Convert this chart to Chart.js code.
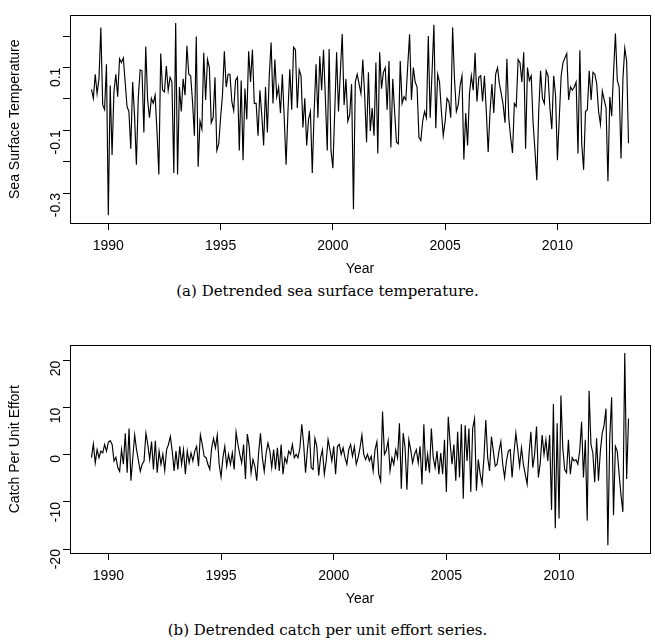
<!DOCTYPE html>
<html><head><meta charset="utf-8">
<script src="https://cdn.jsdelivr.net/npm/chart.js@4.4.0/dist/chart.umd.min.js"></script>
<style>
body{margin:0;background:#fff;width:655px;height:643px;position:relative;overflow:hidden}
canvas{position:absolute;left:0}
.cap{position:absolute;left:0;width:655px;text-align:center;font-family:"DejaVu Serif";font-size:15px;color:#000;line-height:18px}
</style></head><body>
<canvas id="c1" width="655" height="280" style="top:0"></canvas>
<div class="cap" style="top:282px">(a) Detrended sea surface temperature.</div>
<canvas id="c2" width="655" height="280" style="top:330px"></canvas>
<div class="cap" style="top:621px">(b) Detrended catch per unit effort series.</div>
<script>
const startYear = 1989.25;
const yearTicks = [1990, 1995, 2000, 2005, 2010];
const sstTicks = [-0.3, -0.2, -0.1, 0, 0.1, 0.2];
const sstTickLabels = ["-0.3", "", "-0.1", "", "0.1", ""];
const cpueTicks = [-20, -10, 0, 10, 20];
const cpueTickLabels = ["-20", "-10", "0", "10", "20"];

const sst = [
0.031,0.002,0.079,0.017,0.064,0.228,-0.019,-0.034,0.111,-0.371,0.043,-0.179,0.023,0.079,0.007,0.128,0.116,0.131,0.054,-0.024,-0.040,-0.159,0.054,-0.050,-0.210,0.002,0.093,0.090,-0.107,0.167,-0.003,-0.060,0.002,-0.014,0.012,-0.102,-0.241,0.145,0.028,0.023,0.105,0.028,0.069,0.054,-0.236,
0.242,-0.241,0.038,-0.040,0.064,0.012,0.170,0.079,0.074,-0.008,-0.117,0.199,-0.216,-0.071,-0.096,0.147,-0.003,0.126,0.100,-0.076,-0.060,0.069,-0.164,-0.143,-0.060,0.012,0.152,0.038,0.079,0.079,-0.008,-0.037,0.059,0.069,-0.164,0.059,-0.195,0.033,-0.065,0.152,0.054,0.157,-0.014,-0.014,-0.117,0.028,-0.050,-0.148,0.038,-0.107,0.074,
0.180,-0.014,0.126,0.007,0.038,-0.045,0.079,-0.060,-0.210,-0.040,0.095,-0.034,0.165,0.157,-0.029,0.093,0.074,-0.091,0.002,-0.148,-0.065,-0.040,-0.236,-0.040,0.111,-0.060,0.136,0.028,0.157,0.002,-0.164,0.159,-0.164,-0.221,-0.040,0.149,-0.040,0.085,0.207,-0.019,0.064,-0.071,-0.050,0.048,-0.352,0.054,0.079,0.048,0.017,0.126,0.012,
-0.138,0.085,-0.102,-0.029,-0.117,0.116,-0.174,0.149,0.033,0.085,0.100,-0.034,0.121,-0.155,0.064,-0.040,-0.138,-0.143,0.121,-0.014,0.007,-0.003,0.105,0.206,-0.003,0.100,0.054,0.038,-0.122,-0.133,-0.071,-0.040,-0.060,0.201,-0.060,0.085,0.237,-0.093,0.079,0.054,-0.040,-0.117,-0.071,0.002,-0.008,-0.060,0.228,0.064,-0.040,-0.019,0.043,
0.074,-0.193,-0.045,-0.148,0.017,0.074,0.028,0.147,-0.008,0.069,0.074,-0.008,0.074,-0.040,-0.169,-0.040,0.048,-0.045,0.079,0.100,0.048,0.017,-0.019,-0.076,0.128,-0.060,-0.122,-0.172,-0.014,-0.024,0.126,0.116,0.054,0.149,-0.159,0.100,0.059,0.074,-0.076,-0.164,-0.259,-0.040,0.090,0.002,-0.014,0.090,0.074,-0.029,-0.096,0.074,0.012,
-0.195,-0.060,0.074,0.116,0.131,0.145,-0.003,0.038,0.028,0.038,0.054,-0.174,0.155,-0.143,-0.226,-0.040,-0.034,0.090,-0.003,0.085,0.079,0.048,-0.040,-0.081,0.025,-0.003,-0.029,-0.262,0.007,-0.055,0.085,0.209,0.059,0.038,-0.190,0.064,0.162,0.121,-0.141
];

const cpue = [
-0.6,2.3,-1.7,1.1,-0.6,0.8,0.4,2.2,0.8,2.7,3.0,2.2,-1.3,-0.5,-2.7,-3.5,1.1,-2.0,4.6,-3.8,5.6,-5.5,-0.6,4.2,1.1,-1.2,-3.5,-2.0,-1.3,4.6,2.2,-1.0,2.8,-3.1,3.0,-3.8,0.8,-2.0,0.1,-3.3,1.1,2.2,3.9,0.8,-3.4,
0.8,-3.1,1.8,-2.0,1.1,-4.1,0.8,-1.7,0.4,-1.3,0.8,1.8,-2.4,4.2,2.2,-0.3,-0.6,-2.0,-3.1,1.5,3.5,1.5,4.2,-2.0,-4.7,-0.6,1.8,-2.4,0.1,-2.0,0.4,-3.1,4.8,2.2,0.1,-1.7,2.2,-5.1,4.4,1.8,-3.8,-1.0,-2.4,-5.5,0.4,4.6,-0.6,-3.5,0.4,2.5,0.8,
-2.7,1.1,-3.1,1.5,-3.4,2.2,-4.1,-0.6,-1.7,0.8,0.1,2.2,-0.6,0.1,-0.6,1.5,6.5,2.2,-3.8,1.1,5.1,-2.7,-3.1,3.5,1.8,-4.4,-0.6,1.1,-4.1,-1.3,3.2,1.1,-1.3,1.8,-4.1,1.8,2.2,0.1,1.5,-0.6,-2.0,1.1,2.2,-0.3,1.8,-2.0,-0.6,1.5,4.2,0.1,-1.0,
0.1,-1.3,-0.3,-3.4,1.1,2.8,-4.1,-5.6,9.2,0.1,0.9,3.0,-3.4,-0.6,-2.0,1.1,-0.6,6.7,-7.2,4.6,1.5,-7.4,3.2,1.1,-1.7,0.1,1.1,-1.7,1.8,-6.3,6.5,-3.4,0.1,-3.8,5.6,-0.6,-2.7,0.8,-4.1,0.4,-4.1,3.2,-7.9,8.1,2.5,-2.0,2.2,-5.5,4.9,-4.8,6.5,
-9.3,6.3,-1.3,5.6,-7.9,5.6,7.7,-7.6,-1.0,-4.1,-6.2,-0.6,7.4,-0.6,-3.4,3.9,0.8,-2.4,-2.0,0.8,2.8,-2.0,-4.8,-1.3,0.8,1.1,-4.8,0.4,4.6,1.1,-2.4,1.5,-2.0,-4.1,-6.2,0.1,4.9,-2.7,0.1,6.0,-4.8,-1.7,4.2,0.1,3.2,-1.3,4.2,-11.7,10.8,-15.6,6.7,
-13.5,12.6,1.5,-3.1,-3.8,3.2,-4.1,-0.6,-1.3,-1.0,-2.0,0.8,7.0,-4.8,3.2,-14.0,13.6,2.2,0.4,-5.8,3.5,-5.5,0.8,4.6,6.3,9.8,-19.2,3.5,12.2,-12.8,1.8,0.8,-4.1,-8.6,-12.1,21.6,-5.1,7.7
];

const FONT = "'Liberation Sans', Arial, Helvetica, sans-serif";

const boxPlugin = {
  id: 'box',
  afterDraw(chart) {
    const a = chart.chartArea, ctx = chart.ctx;
    ctx.save();
    ctx.strokeStyle = '#000';
    ctx.lineWidth = 1;
    ctx.strokeRect(Math.round(a.left) + 0.5, Math.round(a.top) + 0.5,
                   Math.round(a.right - a.left), Math.round(a.bottom - a.top));
    ctx.restore();
  }
};

function makeChart(id, values, yTitle, yTickVals, yTickLabels) {
  const pts = values.map((v, i) => ({ x: startYear + i / 12, y: v }));
  const xs = pts.map(p => p.x);
  const x0 = Math.min(...xs), x1 = Math.max(...xs);
  const y0 = Math.min(...values), y1 = Math.max(...values);
  const px = (x1 - x0) * 0.04, py = (y1 - y0) * 0.04;
  return new Chart(document.getElementById(id), {
    type: 'line',
    data: { datasets: [{ data: pts, borderColor: '#000', borderWidth: 1.15, pointRadius: 0, tension: 0, fill: false }] },
    options: {
      responsive: false,
      animation: false,
      events: [],
      layout: { padding: { top: 11, right: 5, left: 0, bottom: 0 } },
      plugins: { legend: { display: false }, tooltip: { enabled: false } },
      scales: {
        x: {
          type: 'linear',
          min: x0 - px, max: x1 + px,
          afterBuildTicks: s => { s.ticks = yearTicks.map(v => ({ value: v })); },
          afterFit: s => { s.height = 57; },
          border: { display: false },
          grid: { drawOnChartArea: false, drawTicks: true, tickLength: 7, tickColor: '#000', tickWidth: 1 },
          ticks: { color: '#000', font: { family: FONT, size: 14 }, padding: 8, maxRotation: 0, autoSkip: false,
                   callback: v => String(v) },
          title: { display: true, text: 'Year', color: '#000', font: { family: FONT, size: 14 }, padding: { top: 2, bottom: 2 } }
        },
        y: {
          min: y0 - py, max: y1 + py,
          afterBuildTicks: s => { s.ticks = yTickVals.filter(v => v >= s.min && v <= s.max).map(v => ({ value: v })); },
          afterFit: s => { s.width = 70; },
          border: { display: false },
          grid: { drawOnChartArea: false, drawTicks: true, tickLength: 7, tickColor: '#000', tickWidth: 1 },
          ticks: { color: '#000', font: { family: FONT, size: 14 }, padding: 7, minRotation: 90, maxRotation: 90, autoSkip: false,
                   callback: v => { const k = yTickVals.findIndex(t => Math.abs(t - v) < 1e-9); return k >= 0 ? yTickLabels[k] : ''; } },
          title: { display: true, text: yTitle, color: '#000', font: { family: FONT, size: 14 }, padding: { top: 7, bottom: 0 } }
        }
      }
    },
    plugins: [boxPlugin]
  });
}

makeChart('c1', sst, 'Sea Surface Temperature', sstTicks, sstTickLabels);
makeChart('c2', cpue, 'Catch Per Unit Effort', cpueTicks, cpueTickLabels);
</script>
</body></html>
